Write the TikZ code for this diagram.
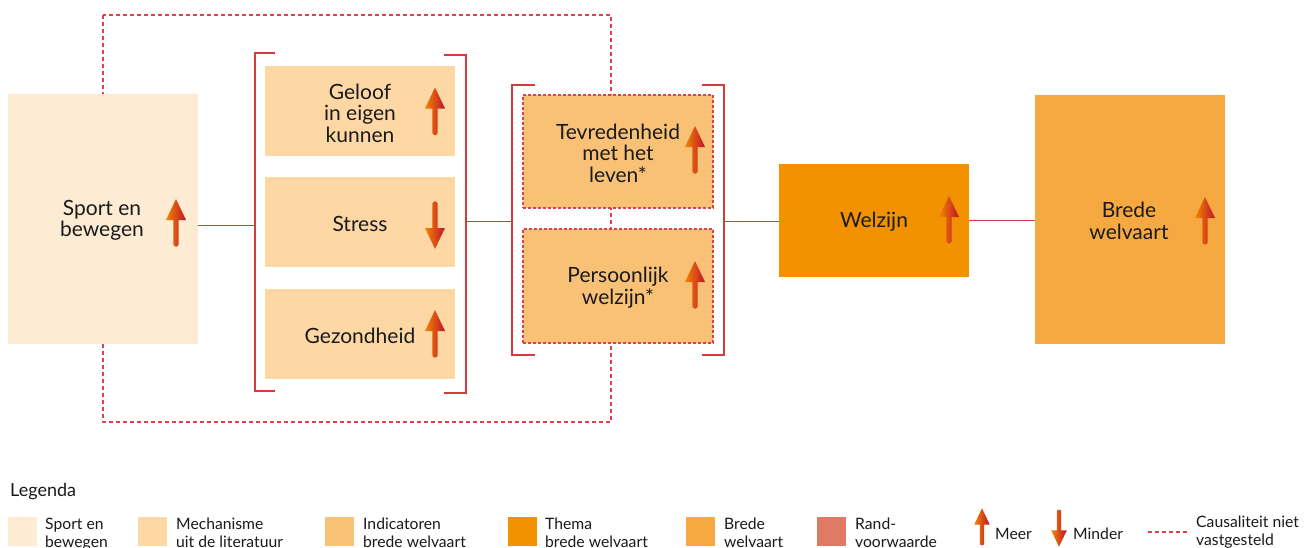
\documentclass[tikz,border=0pt]{standalone}
\usepackage{fontspec}
\setmainfont{Lato}
\definecolor{sportc}{HTML}{FDEBD3}
\definecolor{mechc}{HTML}{FDD8A4}
\definecolor{indc}{HTML}{F9C176}
\definecolor{themac}{HTML}{F39200}
\definecolor{bredec}{HTML}{F7A941}
\definecolor{randc}{HTML}{DE7A65}
\definecolor{linec}{HTML}{D63A40}
\definecolor{dashc}{HTML}{E0404C}
\definecolor{arrowor}{HTML}{F18700}
\definecolor{arrowmid}{HTML}{D9481F}
\definecolor{arrowred}{HTML}{C0102A}
\definecolor{txtc}{HTML}{1A1A1A}
\tikzset{
  box/.style={rectangle, inner sep=0pt, minimum width=190pt},
  lbl/.style={font=\fontsize{21}{21.5}\selectfont, align=center, text=txtc, inner sep=0pt},
  leg/.style={font=\fontsize{15.7}{18}\selectfont, align=left, text=txtc, inner sep=0pt, anchor=north west},
  swatch/.style={rectangle, inner sep=0pt, minimum width=29pt, minimum height=29pt, anchor=north west},
  conn/.style={draw=linec, line width=1pt},
  bracket/.style={draw=linec, line width=1.2pt},
  causal/.style={draw=dashc, line width=1.2pt, dash pattern=on 4pt off 3pt},
  indbox/.style={box, fill=indc, draw=dashc, line width=1.2pt, dash pattern=on 3pt off 2pt},
  uparr/.pic={
    \shade[left color=arrowor, middle color=arrowmid, right color=arrowred]
      (-2.7,-3) -- (-2.7,21) arc[start angle=180, end angle=0, radius=2.7]
      -- (2.7,-3) -- (10,-3) -- (0,-24) -- (-10,-3) -- cycle;
  }
}
\begin{document}
\begin{tikzpicture}[x=1pt, y=-1pt]
\useasboundingbox (0,0) rectangle (1310,547);

% dashed frame around the mechanism part
\draw[causal] (103,15) rectangle (611,422);

% boxes
\node[box, fill=sportc, minimum height=250pt] (sport) at (103,219) {};
\node[box, fill=mechc, minimum height=90pt] (geloof) at (360,111) {};
\node[box, fill=mechc, minimum height=90pt] (stress) at (360,222) {};
\node[box, fill=mechc, minimum height=90pt] (gezond) at (360,334) {};
\node[indbox, minimum height=113pt] (tevreden) at (618,151.5) {};
\node[indbox, minimum height=114pt] (persoon) at (618,286) {};
\node[box, fill=themac, minimum height=113pt] (welzijn) at (874,220.5) {};
\node[box, fill=bredec, minimum height=249pt] (brede) at (1130,219.5) {};

% labels
\node[lbl] (sporttxt) at (102,220.5) {Sport en\\bewegen};
\node[lbl] (geloeftxt) at (360,113) {Geloof\\in eigen\\kunnen};
\node[lbl] (stresstxt) at (360,224) {Stress};
\node[lbl] (gezondtxt) at (360,336) {Gezondheid};
\node[lbl] (tevredentxt) at (618,153) {Tevredenheid\\met het\\leven*};
\node[lbl] (persoontxt) at (618,287.5) {Persoonlijk\\welzijn*};
\node[lbl] (welzijntxt) at (874,222) {Welzijn};
\node[lbl] (bredetxt) at (1129,221) {Brede\\welvaart};

% more / less arrows
\pic at (176,223) {uparr};
\pic at (435,111.5) {uparr};
\pic[yscale=-1] at (435,225) {uparr};
\pic at (435,334) {uparr};
\pic at (695,150) {uparr};
\pic at (695,285) {uparr};
\pic at (949,220) {uparr};
\pic at (1205,221) {uparr};

% brackets
\coordinate (b1l) at (255,225);
\coordinate (b1r) at (466,221);
\coordinate (b2l) at (512,221);
\coordinate (b2r) at (724,221);
\draw[bracket] (275,53) -| (255,391) -- (275,391);
\draw[bracket] (444,55) -| (466,393) -- (444,393);
\draw[bracket] (535,85) -| (512,355) -- (535,355);
\draw[bracket] (702,85) -| (724,355) -- (702,355);

% connectors
\draw[conn] (sport.east |- b1l) -- (b1l);
\draw[conn] (b1r) -- (b2l);
\draw[conn] (b2r) -- (b2r -| welzijn.west);
\draw[conn] (welzijn.east) -- (welzijn.east -| brede.west);

% legend
\node[font=\fontsize{18}{20}\selectfont, text=txtc, inner sep=0pt, anchor=west] (legtitle) at (10,492) {Legenda};
\node[swatch, fill=sportc] (sw1) at (8,517) {};
\node[leg] (lg1) at (45,517.5) {Sport en\\bewegen};
\node[swatch, fill=mechc] (sw2) at (138,517) {};
\node[leg] (lg2) at (176,517.5) {Mechanisme\\uit de literatuur};
\node[swatch, fill=indc] (sw3) at (325,517) {};
\node[leg] (lg3) at (363,517.5) {Indicatoren\\brede welvaart};
\node[swatch, fill=themac] (sw4) at (508,517) {};
\node[leg] (lg4) at (545,517.5) {Thema\\brede welvaart};
\node[swatch, fill=bredec] (sw5) at (686,517) {};
\node[leg] (lg5) at (724,517.5) {Brede\\welvaart};
\node[swatch, fill=randc] (sw6) at (817,517) {};
\node[leg] (lg6) at (855,517.5) {Rand-\\voorwaarde};
\pic[scale=0.78] at (982,527) {uparr};
\node[leg, anchor=west] (lg7) at (995,533.5) {Meer};
\pic[scale=0.78, yscale=-1] at (1059,528) {uparr};
\node[leg, anchor=west] (lg8) at (1073,533.5) {Minder};
\coordinate (dashA) at (1148,532);
\coordinate (dashB) at (1187,532);
\draw[causal] (dashA) -- (dashB);
\node[leg] (lg9) at (1196,516) {Causaliteit niet\\vastgesteld};
\end{tikzpicture}
\end{document}
